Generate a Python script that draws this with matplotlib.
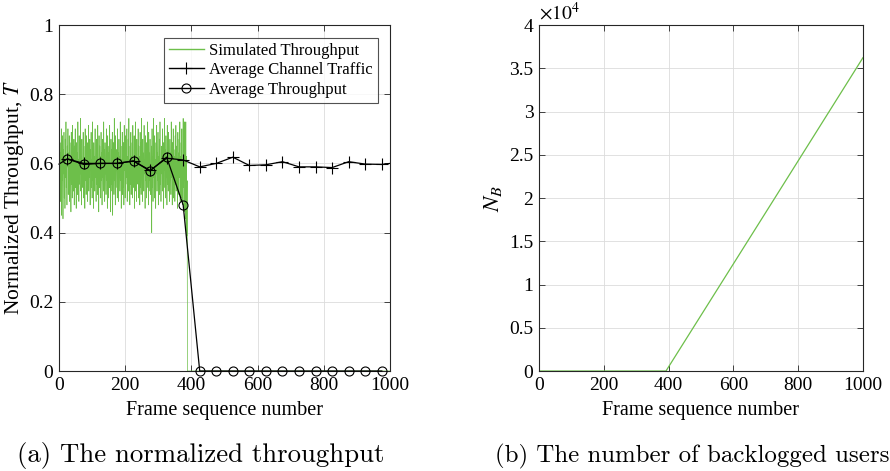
import numpy as np
import matplotlib
matplotlib.use('agg')
import matplotlib.pyplot as plt
from matplotlib.ticker import FuncFormatter

plt.rcParams['font.family'] = ['Liberation Serif', 'DejaVu Serif']
plt.rcParams['mathtext.fontset'] = 'stix'

## Data ##
# simulated throughput per frame, frames 1..388, then zero afterwards
sim_thr = [
	0.71, 0.52, 0.66, 0.49, 0.63, 0.58, 0.70, 0.45, 0.61, 0.55, 0.68, 0.44, 0.64, 0.57, 0.69, 0.50,
	0.62, 0.47, 0.67, 0.56, 0.72, 0.53, 0.60, 0.48, 0.65, 0.59, 0.70, 0.51, 0.63, 0.55, 0.68, 0.49,
	0.66, 0.58, 0.61, 0.46, 0.69, 0.54, 0.64, 0.50, 0.71, 0.57, 0.62, 0.52, 0.67, 0.48, 0.65, 0.56,
	0.70, 0.53, 0.59, 0.47, 0.66, 0.55, 0.63, 0.51, 0.72, 0.58, 0.61, 0.49, 0.68, 0.54, 0.64, 0.57,
	0.73, 0.52, 0.62, 0.48, 0.67, 0.56, 0.60, 0.53, 0.69, 0.50, 0.65, 0.58, 0.61, 0.47, 0.70, 0.55,
	0.63, 0.51, 0.68, 0.57, 0.62, 0.49, 0.66, 0.54, 0.71, 0.52, 0.60, 0.56, 0.67, 0.48, 0.64, 0.58,
	0.69, 0.53, 0.61, 0.50, 0.72, 0.55, 0.63, 0.47, 0.66, 0.59, 0.62, 0.52, 0.70, 0.56, 0.60, 0.49,
	0.67, 0.54, 0.64, 0.51, 0.71, 0.57, 0.61, 0.46, 0.68, 0.53, 0.65, 0.58, 0.62, 0.50, 0.69, 0.55,
	0.63, 0.48, 0.67, 0.56, 0.60, 0.52, 0.72, 0.54, 0.64, 0.49, 0.66, 0.57, 0.61, 0.51, 0.70, 0.55,
	0.62, 0.47, 0.68, 0.58, 0.63, 0.50, 0.65, 0.53, 0.71, 0.56, 0.60, 0.46, 0.67, 0.54, 0.64, 0.52,
	0.69, 0.45, 0.62, 0.57, 0.66, 0.51, 0.73, 0.55, 0.61, 0.48, 0.68, 0.53, 0.64, 0.58, 0.60, 0.50,
	0.70, 0.54, 0.63, 0.49, 0.67, 0.56, 0.62, 0.52, 0.72, 0.55, 0.65, 0.47, 0.61, 0.57, 0.69, 0.51,
	0.64, 0.53, 0.66, 0.48, 0.71, 0.58, 0.60, 0.50, 0.68, 0.54, 0.63, 0.56, 0.70, 0.49, 0.62, 0.55,
	0.67, 0.52, 0.73, 0.57, 0.61, 0.48, 0.65, 0.54, 0.69, 0.51, 0.62, 0.58, 0.66, 0.50, 0.71, 0.55,
	0.60, 0.53, 0.68, 0.47, 0.64, 0.56, 0.72, 0.52, 0.63, 0.49, 0.67, 0.57, 0.61, 0.54, 0.70, 0.50,
	0.65, 0.55, 0.62, 0.48, 0.69, 0.53, 0.66, 0.51, 0.73, 0.56, 0.60, 0.49, 0.67, 0.54, 0.63, 0.52,
	0.71, 0.57, 0.61, 0.47, 0.68, 0.55, 0.64, 0.50, 0.66, 0.53, 0.72, 0.56, 0.62, 0.48, 0.69, 0.52,
	0.63, 0.55, 0.67, 0.51, 0.60, 0.58, 0.65, 0.40, 0.70, 0.53, 0.62, 0.49, 0.73, 0.56, 0.64, 0.50,
	0.68, 0.54, 0.61, 0.47, 0.66, 0.57, 0.71, 0.52, 0.63, 0.55, 0.69, 0.48, 0.62, 0.56, 0.67, 0.51,
	0.72, 0.54, 0.60, 0.49, 0.65, 0.57, 0.63, 0.52, 0.70, 0.55, 0.66, 0.47, 0.61, 0.58, 0.73, 0.53,
	0.64, 0.50, 0.68, 0.56, 0.62, 0.48, 0.71, 0.54, 0.65, 0.52, 0.69, 0.57, 0.60, 0.49, 0.67, 0.55,
	0.63, 0.51, 0.72, 0.56, 0.61, 0.48, 0.66, 0.53, 0.70, 0.50, 0.64, 0.57, 0.62, 0.49, 0.68, 0.54,
	0.71, 0.52, 0.65, 0.58, 0.60, 0.47, 0.69, 0.55, 0.63, 0.51, 0.67, 0.56, 0.72, 0.49, 0.62, 0.54,
	0.66, 0.50, 0.70, 0.57, 0.61, 0.48, 0.73, 0.53, 0.64, 0.46, 0.72, 0.55, 0.68, 0.44, 0.72, 0.41,
	0.62, 0.39, 0.55, 0.00,
]
sim_end_frame = 1000

# average channel traffic (markers at 25, 75, ..., 975; line runs to 0 and 1000)
traffic_x = [0, 25, 75, 125, 175, 225, 275, 325, 375, 425, 475, 525, 575, 625, 675, 725, 775, 825, 875, 925, 975, 1000]
traffic_y = [0.598, 0.613, 0.600, 0.600, 0.600, 0.607, 0.580, 0.615, 0.610, 0.590, 0.600, 0.618, 0.594, 0.596, 0.605,
			 0.590, 0.590, 0.588, 0.605, 0.598, 0.597, 0.600]

# average throughput
avg_x = [25, 75, 125, 175, 225, 275, 325, 375, 425, 475, 525, 575, 625, 675, 725, 775, 825, 875, 925, 975]
avg_y = [0.613, 0.597, 0.600, 0.600, 0.607, 0.578, 0.618, 0.480, 0, 0, 0, 0, 0, 0, 0, 0, 0, 0, 0, 0]

# backlogged users
nb_x = [0, 392, 728, 1000]
nb_y = [0, 0, 20000, 36220]

green = '#6dbf4a'
axcol = '#262626'
ticksize = 14
labelsize = 14.5

fig = plt.figure(figsize=(8.9, 4.71), dpi=100)
ax1 = fig.add_axes([0.0663, 0.2123, 0.372, 0.7346])
ax2 = fig.add_axes([0.6056, 0.2123, 0.364, 0.7346])

def style(ax):
	ax.set_xlim(0, 1000)
	ax.set_xticks([0, 200, 400, 600, 800, 1000])
	ax.grid(True, color='#dcdcdc', linewidth=0.6)
	ax.set_axisbelow(True)
	ax.tick_params(direction='in', top=True, right=True, length=4, width=0.6,
				   labelsize=ticksize, colors=axcol, labelcolor='black', pad=4)
	for s in ax.spines.values():
		s.set_color(axcol)
		s.set_linewidth(0.8)
	ax.set_xlabel('Frame sequence number', fontsize=labelsize, labelpad=5)

## Left panel ##
frames = np.arange(1, len(sim_thr) + 1)
sx = np.append(frames, sim_end_frame)
sy = np.append(sim_thr, 0.0)
ax1.plot(sx, sy, color=green, linewidth=0.5, label='Simulated Throughput')
ax1.plot(traffic_x, traffic_y, 'k-', marker='+', markersize=8, markeredgewidth=0.8, linewidth=0.9,
		 markevery=list(range(1, len(traffic_x) - 1)), label='Average Channel Traffic', clip_on=False)
ax1.plot(avg_x, avg_y, 'k-', marker='o', markersize=6.5, markerfacecolor='none', markeredgewidth=0.8,
		 linewidth=0.9, label='Average Throughput', clip_on=False, zorder=4)
style(ax1)
ax1.set_ylim(0, 1)
ax1.set_yticks([0, 0.2, 0.4, 0.6, 0.8, 1])
ax1.yaxis.set_major_formatter(FuncFormatter(lambda v, p: '%g' % v))
ax1.set_ylabel('Normalized Throughput, $T$', fontsize=labelsize + 1, labelpad=2)
leg = ax1.legend(loc='upper right', fontsize=12, frameon=True, fancybox=False, borderpad=0.3,
				 labelspacing=0.22, handlelength=2.1, handletextpad=0.3, borderaxespad=0.75)
leg.get_frame().set_edgecolor(axcol)
leg.get_frame().set_linewidth(0.8)
for h in leg.legend_handles:
	h.set_linewidth(1.0)

## Right panel ##
ax2.plot(nb_x, nb_y, color=green, linewidth=0.9)
style(ax2)
ax2.set_ylim(0, 40000)
ax2.set_yticks(np.arange(0, 40001, 5000))
ax2.yaxis.set_major_formatter(FuncFormatter(lambda v, p: '%g' % (v / 1e4)))
ax2.set_ylabel('$N_B$', fontsize=labelsize + 2, labelpad=4)
ax2.text(0.0, 1.005, r'$\times10^{4}$', transform=ax2.transAxes, fontsize=14, ha='left', va='bottom')

## Captions ##
fig.text(0.226, 0.019, '(a) The normalized throughput', family='cmr10', fontsize=19.3, ha='center', va='baseline')
fig.text(0.778, 0.019, '(b) The number of backlogged users', family='cmr10', fontsize=17.9, ha='center', va='baseline')

fig.savefig('out.png', dpi=100)
